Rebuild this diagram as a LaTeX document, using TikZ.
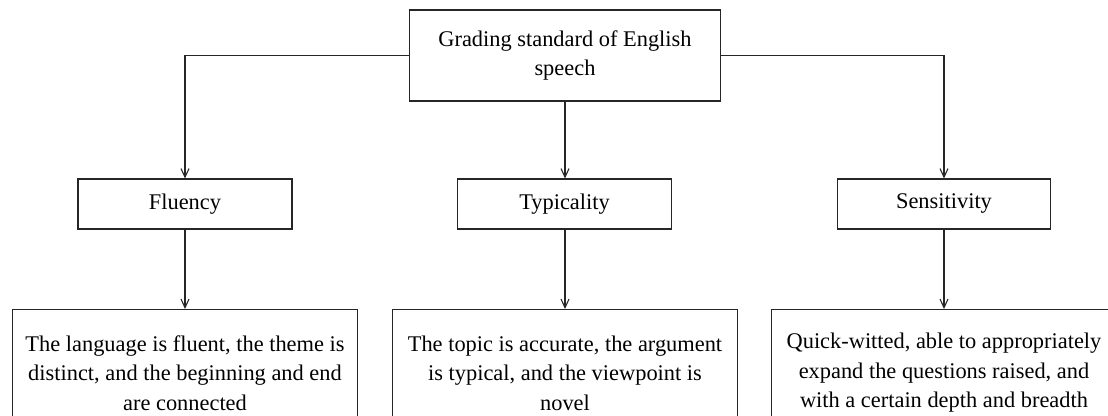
\documentclass[tikz,border=0pt]{standalone}
\usepackage{fontspec}
\setmainfont{Liberation Serif}
\usetikzlibrary{arrows.meta}
\begin{document}
\begin{tikzpicture}[x=0.75pt,y=-0.75pt,
  box/.style={draw=black!85,line width=0.8pt,align=center,inner sep=0pt,
    font=\fontsize{16.8}{22.1}\selectfont},
  conn/.style={draw=black!85,line width=0.8pt,-{Straight Barb[length=6.5pt,width=6pt]}}]
\useasboundingbox (0,0) rectangle (1108,416);
\clip (0,0) rectangle (1108,416);
\fill[white] (0,0) rectangle (1108,416);
\node[box,minimum width=233.6pt,minimum height=68.25pt] (top) at (565,55.5) {Grading standard of English\\speech};
\node[box,minimum width=160.5pt,minimum height=37.5pt] (flu) at (185,204) {Fluency};
\node[box,minimum width=160.3pt,minimum height=37.5pt] (typ) at (564.5,204) {Typicality};
\node[box,minimum width=160.2pt,minimum height=37.5pt] (sen) at (944,204) {Sensitivity};
\node[box,minimum width=258.75pt,minimum height=95.25pt,anchor=north] (d1) at (185,309) {The language is fluent, the theme is\\distinct, and the beginning and end\\are connected};
\node[box,minimum width=258.75pt,minimum height=95.25pt,anchor=north] (d2) at (565,309) {The topic is accurate, the argument\\is typical, and the viewpoint is\\novel};
\node[box,minimum width=258.75pt,minimum height=95.25pt,anchor=north] (d3) at (944,309) {Quick-witted, able to appropriately\\expand the questions raised, and\\with a certain depth and breadth};
\draw[conn] (top.west) -| (flu.north);
\draw[conn] (top.east) -| (sen.north);
\draw[conn] (top.south) -- (top.south |- typ.north);
\draw[conn] (flu.south) -- (d1.north);
\draw[conn] (typ.south -| top.south) -- (top.south |- d2.north);
\draw[conn] (sen.south) -- (d3.north);
\end{tikzpicture}
\end{document}
